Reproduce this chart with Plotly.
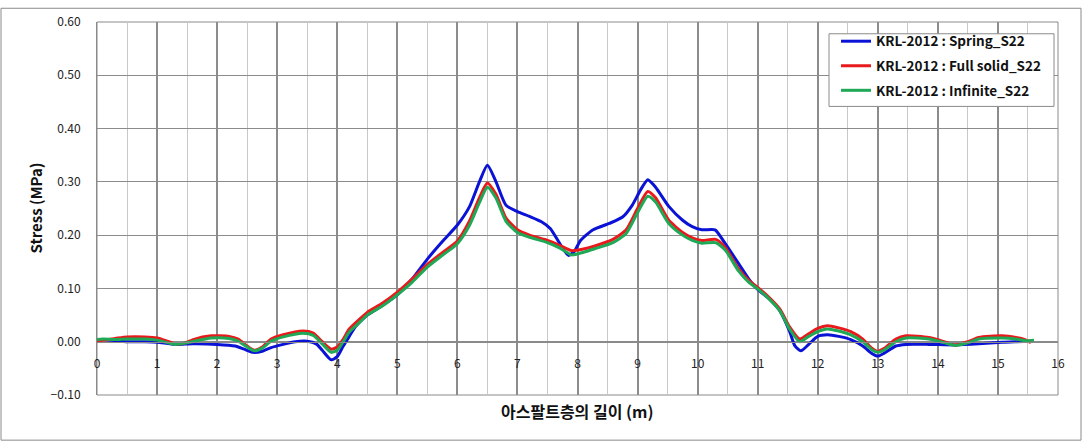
import plotly.graph_objects as go

# ---------------- data ----------------
x_spring = [0.0, 0.1, 0.3, 0.5, 0.8, 1.0, 1.3, 1.6, 2.0, 2.3, 2.45, 2.6, 2.75, 2.9, 3.1, 3.3, 3.5,
            3.65, 3.75, 3.9, 4.0, 4.1, 4.2, 4.3, 4.5, 4.75, 5.0, 5.25, 5.5, 5.75, 6.0, 6.2, 6.37,
            6.5, 6.64, 6.81, 7.0, 7.2, 7.4, 7.55, 7.7, 7.85, 7.95, 8.05, 8.26, 8.53, 8.75, 8.91,
            9.05, 9.17, 9.3, 9.52, 9.75, 9.91, 10.07, 10.29, 10.46, 10.68, 10.85, 11.0, 11.2,
            11.37, 11.53, 11.62, 11.72, 11.85, 12.0, 12.16, 12.35, 12.55, 12.75, 12.9, 13.0,
            13.1, 13.3, 13.47, 13.85, 14.29, 14.68, 15.07, 15.3, 15.55]
y_spring = [0.003, 0.004, 0.002, 0.000, 0.000, -0.001, -0.005, -0.004, -0.005, -0.008, -0.014,
            -0.020, -0.018, -0.011, -0.005, 0.000, 0.001, -0.004, -0.016, -0.034, -0.028, -0.008,
            0.010, 0.028, 0.050, 0.068, 0.088, 0.118, 0.155, 0.188, 0.219, 0.253, 0.301, 0.331,
            0.301, 0.256, 0.244, 0.235, 0.225, 0.212, 0.185, 0.162, 0.170, 0.190, 0.210, 0.222,
            0.234, 0.256, 0.285, 0.304, 0.290, 0.254, 0.228, 0.216, 0.210, 0.210, 0.184, 0.147,
            0.118, 0.098, 0.080, 0.058, 0.020, -0.008, -0.017, -0.005, 0.010, 0.013, 0.010,
            0.004, -0.008, -0.022, -0.027, -0.022, -0.008, -0.005, -0.005, -0.006, -0.004,
            -0.001, 0.000, 0.001]

x_full = [0.0, 0.1, 0.3, 0.5, 0.8, 1.0, 1.15, 1.3, 1.45, 1.6, 1.9, 2.2, 2.35, 2.5, 2.62, 2.75,
          2.9, 3.1, 3.43, 3.6, 3.75, 3.9, 4.0, 4.1, 4.2, 4.35, 4.5, 4.75, 5.0, 5.25, 5.5, 5.76,
          6.0, 6.2, 6.37, 6.5, 6.64, 6.81, 7.0, 7.2, 7.5, 7.7, 7.9, 8.1, 8.3, 8.59, 8.81, 9.0,
          9.17, 9.3, 9.52, 9.75, 9.91, 10.07, 10.3, 10.46, 10.68, 10.85, 11.0, 11.2, 11.37,
          11.53, 11.7, 11.85, 12.0, 12.16, 12.35, 12.55, 12.75, 12.9, 13.0, 13.1, 13.3, 13.47,
          13.85, 14.05, 14.29, 14.5, 14.68, 15.07, 15.3, 15.45, 15.55]
y_full = [0.000, 0.003, 0.006, 0.009, 0.009, 0.007, 0.002, -0.004, -0.003, 0.004, 0.011, 0.010,
          0.005, -0.008, -0.016, -0.010, 0.005, 0.013, 0.020, 0.016, 0.000, -0.014, -0.010,
          0.005, 0.024, 0.040, 0.055, 0.072, 0.093, 0.118, 0.145, 0.168, 0.189, 0.226, 0.271,
          0.298, 0.277, 0.232, 0.210, 0.200, 0.190, 0.181, 0.171, 0.174, 0.180, 0.192, 0.210,
          0.250, 0.282, 0.270, 0.228, 0.205, 0.195, 0.190, 0.192, 0.177, 0.137, 0.115, 0.102,
          0.082, 0.061, 0.028, 0.005, 0.015, 0.025, 0.030, 0.026, 0.019, 0.005, -0.012, -0.018,
          -0.013, 0.005, 0.011, 0.008, 0.002, -0.006, 0.000, 0.008, 0.011, 0.008, 0.004, -0.002]

x_inf = [0.0, 0.1, 0.3, 0.5, 0.8, 1.0, 1.3, 1.5, 1.9, 2.2, 2.35, 2.5, 2.62, 2.75, 2.9, 3.1, 3.43,
         3.6, 3.75, 3.9, 4.0, 4.1, 4.2, 4.35, 4.5, 4.75, 5.0, 5.25, 5.5, 5.76, 6.0, 6.2, 6.37,
         6.5, 6.64, 6.81, 7.0, 7.2, 7.5, 7.7, 7.9, 8.1, 8.3, 8.59, 8.81, 9.0, 9.17, 9.3, 9.52,
         9.75, 9.91, 10.07, 10.3, 10.46, 10.68, 10.85, 11.0, 11.2, 11.37, 11.53, 11.7, 11.85,
         12.0, 12.16, 12.35, 12.55, 12.75, 12.9, 13.0, 13.1, 13.3, 13.47, 13.85, 14.05, 14.29,
         14.5, 14.68, 15.07, 15.3, 15.45, 15.6]
y_inf = [0.004, 0.005, 0.004, 0.005, 0.005, 0.003, -0.005, -0.002, 0.007, 0.006, 0.001, -0.010,
         -0.017, -0.012, 0.001, 0.009, 0.016, 0.012, -0.004, -0.020, -0.016, 0.000, 0.018, 0.034,
         0.050, 0.067, 0.088, 0.112, 0.140, 0.163, 0.184, 0.218, 0.262, 0.290, 0.270, 0.226,
         0.205, 0.196, 0.186, 0.176, 0.163, 0.168, 0.175, 0.186, 0.203, 0.242, 0.273, 0.262,
         0.222, 0.200, 0.190, 0.185, 0.186, 0.172, 0.133, 0.112, 0.099, 0.079, 0.058, 0.024,
         0.000, 0.010, 0.019, 0.024, 0.020, 0.013, 0.000, -0.015, -0.020, -0.016, 0.000, 0.007,
         0.005, 0.000, -0.007, -0.002, 0.005, 0.007, 0.005, 0.002, 0.003]

series_names = ["KRL-2012 : Spring_S22", "KRL-2012 : Full solid_S22", "KRL-2012 : Infinite_S22"]
series_colors = ["#0a12d6", "#e81a1c", "#1fa855"]

x_ticks = list(range(0, 17))
y_ticks = [-0.1, 0.0, 0.1, 0.2, 0.3, 0.4, 0.5, 0.6]
x_range = [0, 16]
y_range = [-0.1, 0.6]

x_title = "아스팔트층의 길이 (m)"
y_title = "Stress (MPa)"

# ---------------- figure ----------------
FONT = "Noto Sans CJK KR"
W, H = 1083, 443
ML, MR, MT, MB = 97, 25, 15, 48
pw, ph = W - ML - MR, H - MT - MB


def px_x(p):
    return (p - ML) / pw


def px_y(p):
    return (MT + ph - p) / ph


fig = go.Figure()
for i, (xs, ys, name, col) in enumerate(zip([x_spring, x_full, x_inf], [y_spring, y_full, y_inf],
                                            series_names, series_colors)):
    fig.add_trace(go.Scatter(x=xs, y=ys, mode="lines", name=name, legendgroup=f"g{i}",
                             line=dict(color=col, width=3, shape="spline", smoothing=0.6)))

# axis line sits at y = 0 (Excel style)
zero_pos = (0 - y_range[0]) / (y_range[1] - y_range[0])

fig.update_layout(
    width=W, height=H,
    margin=dict(l=ML, r=MR, t=MT, b=MB),
    paper_bgcolor="white", plot_bgcolor="white",
    font=dict(family=FONT, size=12, color="#222222"),
    showlegend=True,
    legend=dict(x=px_x(836), xanchor="left", y=px_y(19), yanchor="top",
                bgcolor="rgba(0,0,0,0)", borderwidth=0,
                font=dict(family=FONT, size=13.5, color="#111111", weight="bold"),
                tracegroupgap=4, itemwidth=30),
    xaxis=dict(range=x_range, tickvals=x_ticks, ticktext=[str(v) for v in x_ticks],
               anchor="free", position=zero_pos,
               showline=True, linecolor="#8a8a8a", linewidth=1,
               showgrid=True, gridcolor="#8c8c8c", gridwidth=2,
               minor=dict(dtick=0.5, tick0=0, showgrid=True, gridcolor="#c8c8c8", gridwidth=1),
               ticks="", ticklabelstandoff=11, zeroline=False,
               tickfont=dict(family=FONT, size=12, color="#222222")),
    yaxis=dict(range=y_range, tickvals=y_ticks, tickformat=".2f",
               showline=True, linecolor="#8a8a8a", linewidth=1,
               showgrid=True, gridcolor="#8c8c8c", gridwidth=1,
               zeroline=True, zerolinecolor="#8a8a8a", zerolinewidth=1.5,
               ticks="", ticklabelstandoff=13,
               tickfont=dict(family=FONT, size=12, color="#222222")),
    annotations=[
        dict(text=x_title, xref="paper", yref="paper", x=0.5, y=px_y(411),
             xanchor="center", yanchor="middle", showarrow=False,
             font=dict(family=FONT, size=16, color="#111111", weight="bold")),
        dict(text=y_title, xref="paper", yref="paper", x=px_x(35), y=0.5,
             xanchor="center", yanchor="middle", textangle=-90, showarrow=False,
             font=dict(family=FONT, size=15, color="#111111", weight="bold")),
    ],
    shapes=[
        dict(type="rect", xref="paper", yref="paper", x0=0, x1=1, y0=0, y1=1,
             line=dict(color="#8a8a8a", width=1), layer="below"),
        dict(type="rect", xref="paper", yref="paper",
             x0=px_x(1), x1=px_x(W - 2), y0=px_y(H - 2), y1=px_y(1),
             line=dict(color="#8a8a8a", width=1)),
        # legend frame
        dict(type="rect", xref="paper", yref="paper",
             x0=px_x(829), x1=px_x(1054), y0=px_y(101), y1=px_y(27),
             line=dict(color="#8a8a8a", width=1), fillcolor="white", layer="above"),
    ],
)

fig.write_html("out.html")
